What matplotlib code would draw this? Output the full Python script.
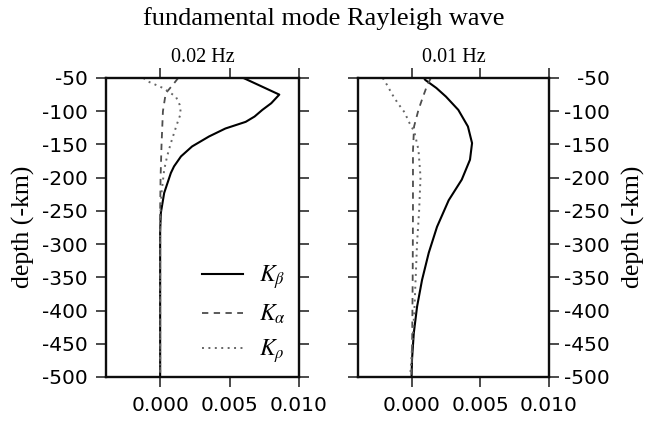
import matplotlib
matplotlib.use('Agg')
import matplotlib.pyplot as plt

plt.rcParams['mathtext.fontset'] = 'stix'

# 0.02 Hz panel, depth in -km, sensitivity kernels
depth_b1 = [-50, -75, -88, -98, -108, -116, -126, -138, -153, -168, -183, -193, -223, -253, -280, -500]
kb1 = [0.0060, 0.00858, 0.0080, 0.00736, 0.0068, 0.00616, 0.0047, 0.00352, 0.0023, 0.0015, 0.0010, 0.00077, 0.00029, 0.00005, 0.0, 0.0]
depth_a1 = [-50, -58, -73, -100, -150, -200, -250, -500]
ka1 = [0.0013, 0.0010, 0.0004, 0.0002, 0.0001, 0.00003, 0.0, 0.0]
depth_r1 = [-50, -55, -65, -78, -90, -103, -120, -148, -168, -188, -223, -260, -500]
kr1 = [-0.0012, -0.0009, 0.0002, 0.00113, 0.0014, 0.00149, 0.0012, 0.00077, 0.0005, 0.00029, 0.0001, 0.0, 0.0]

# 0.01 Hz panel
depth_b2 = [-50, -53, -65, -78, -98, -123, -148, -173, -203, -234, -274, -313, -354, -394, -434, -474, -500]
kb2 = [0.0009, 0.0010, 0.0018, 0.0025, 0.0034, 0.0041, 0.0044, 0.00425, 0.00365, 0.0027, 0.00185, 0.00125, 0.00076, 0.0004, 0.00016, 0.00003, 0.0]
depth_a2 = [-50, -63, -80, -98, -123, -160, -250, -350, -450, -500]
ka2 = [0.0014, 0.0011, 0.0008, 0.0005, 0.00018, 0.0001, 0.0001, 0.00008, 0.00004, 0.0]
depth_r2 = [-50, -60, -75, -88, -102, -116, -131, -158, -199, -249, -298, -349, -400, -450, -500]
kr2 = [-0.0021, -0.0018, -0.0014, -0.0010, -0.0005, -0.0002, 0.0002, 0.0005, 0.00065, 0.00055, 0.0004, 0.0003, 0.0002, 0.00005, -0.0001]

yticks = list(range(-50, -501, -50))
xticks = [0.0, 0.005, 0.01]
xticklabels = ['0.000', '0.005', '0.010']

W, H = 647, 422
fig = plt.figure(figsize=(W / 100, H / 100), dpi=100)
ax1 = fig.add_axes([106 / W, 45 / H, 193 / W, 299 / H])
ax2 = fig.add_axes([358 / W, 45 / H, 191 / W, 299 / H])

tickfont = {'family': 'DejaVu Sans', 'size': 14.5}
serif = 'Liberation Serif'

for ax in (ax1, ax2):
    ax.set_xlim(-0.0039, 0.010)
    ax.set_ylim(-500, -50)
    ax.set_xticks(xticks)
    ax.set_xticklabels(xticklabels, fontdict=tickfont)
    ax.set_yticks(yticks)
    ax.set_yticklabels([str(t) for t in yticks], fontdict=tickfont)
    ax.tick_params(direction='out', length=7, width=1.1, top=True, right=True,
                   left=True, bottom=True, color='0.1', labelcolor='black')
    ax.tick_params(axis='x', pad=6.5)
    ax.tick_params(axis='y', pad=6)
    for s in ax.spines.values():
        s.set_linewidth(1.7)
        s.set_color('0.05')

ax1.tick_params(labelleft=True, labelright=False)
ax2.tick_params(labelleft=False, labelright=True)
# right-hand labels are right-aligned, ending at about x=610 px
ax2.tick_params(axis='y', pad=36.5)
for lab in ax2.get_yticklabels():
    lab.set_horizontalalignment('right')

ax1.plot(kb1, depth_b1, color='black', lw=1.5, label=r'$K_\beta$')
ax1.plot(ka1, depth_a1, color='0.3', lw=1.3, ls=(0, (3.5, 3)), label=r'$K_\alpha$')
ax1.plot(kr1, depth_r1, color='0.4', lw=1.4, ls=(0, (1, 2.3)), label=r'$K_\rho$')

ax2.plot(kb2, depth_b2, color='black', lw=1.5)
ax2.plot(ka2, depth_a2, color='0.3', lw=1.3, ls=(0, (3.5, 3)))
ax2.plot(kr2, depth_r2, color='0.4', lw=1.4, ls=(0, (1, 2.3)))

ax1.legend(loc='upper left', bbox_to_anchor=(96 / 193, 114 / 299), frameon=False,
           fontsize=17, handlelength=1.75, handletextpad=0.65, labelspacing=0.45,
           borderpad=0, borderaxespad=0)

fig.text(23 / W, 1 - 227 / H, 'depth (-km)', family=serif, fontsize=18.5,
         rotation=90, ha='center', va='center')
fig.text(633 / W, 1 - 227 / H, 'depth (-km)', family=serif, fontsize=18.5,
         rotation=90, ha='center', va='center')

ax1.text(0.5, 1 + 16 / 299, '0.02 Hz', transform=ax1.transAxes, family=serif,
         fontsize=14.5, ha='center', va='baseline')
ax2.text(0.5, 1 + 16 / 299, '0.01 Hz', transform=ax2.transAxes, family=serif,
         fontsize=14.5, ha='center', va='baseline')
fig.text(0.5, 1 - 25 / H, 'fundamental mode Rayleigh wave', family=serif,
         fontsize=19, ha='center', va='baseline')

fig.savefig('out.png', dpi=100)
